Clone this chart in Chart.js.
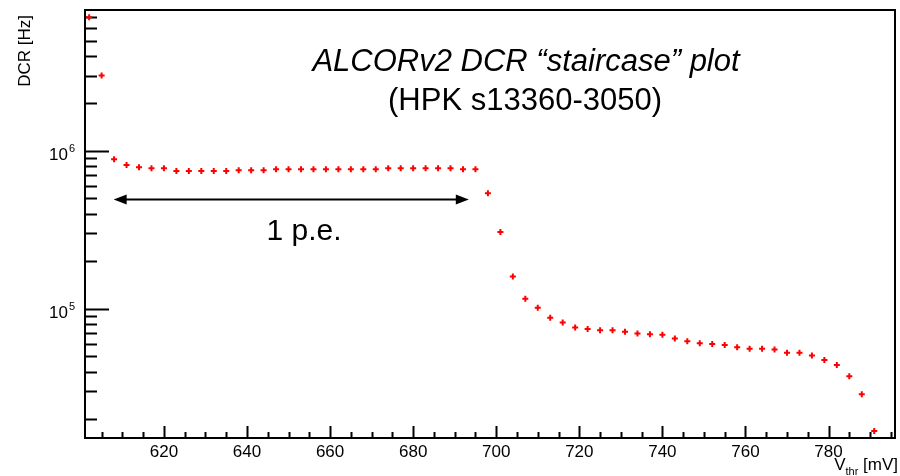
<!DOCTYPE html>
<html lang="en">
<head>
  <meta charset="UTF-8">
  <title>ALCORv2 DCR staircase</title>
  <script src="https://cdn.jsdelivr.net/npm/chart.js"></script>
  <style>
    html, body { margin: 0; padding: 0; background: #fff; }
    canvas { display: block; }
  </style>
</head>
<body>
  <canvas id="dcrChart" width="900" height="476"></canvas>

  <script>
    // threshold voltage [mV] and measured dark count rate [Hz]
    const vthr = [
      602, 605, 608, 611, 614, 617, 620, 623, 626, 629, 632, 635, 638, 641, 644, 647,
      650, 653, 656, 659, 662, 665, 668, 671, 674, 677, 680, 683, 686, 689, 692, 695,
      698, 701, 704, 707, 710, 713, 716, 719, 722, 725, 728, 731, 734, 737, 740, 743,
      746, 749, 752, 755, 758, 761, 764, 767, 770, 773, 776, 779, 782, 785, 788, 791
    ];
    const dcr = [
      7.02e6, 3.0e6, 8.86e5, 8.15e5, 7.89e5, 7.77e5, 7.77e5, 7.47e5, 7.47e5, 7.47e5, 7.47e5, 7.47e5, 7.55e5, 7.55e5, 7.55e5, 7.66e5,
      7.66e5, 7.66e5, 7.66e5, 7.66e5, 7.66e5, 7.66e5, 7.66e5, 7.66e5, 7.77e5, 7.77e5, 7.77e5, 7.77e5, 7.77e5, 7.77e5, 7.66e5, 7.66e5,
      5.40e5, 3.06e5, 1.60e5, 1.157e5, 1.014e5, 8.77e4, 8.19e4, 7.62e4, 7.44e4, 7.32e4, 7.32e4, 7.15e4, 6.98e4, 6.91e4, 6.85e4, 6.49e4,
      6.22e4, 6.04e4, 5.98e4, 5.89e4, 5.70e4, 5.59e4, 5.59e4, 5.53e4, 5.27e4, 5.27e4, 5.06e4, 4.74e4, 4.41e4, 3.74e4, 2.88e4, 1.68e4
    ];

    const xTickLabels = [620, 640, 660, 680, 700, 720, 740, 760, 780];
    const yTickExponents = [5, 6];

    const titleLine1 = 'ALCORv2 DCR \u201Cstaircase\u201D plot';
    const titleLine2 = '(HPK s13360-3050)';
    const peLabel = '1 p.e.';

    const FONT = '"Liberation Sans", Arial, Helvetica, sans-serif';

    // ROOT-like frame, inward ticks, labels and the annotations
    const rootStyle = {
      id: 'rootStyle',
      beforeDatasetsDraw(chart) {
        const { ctx, chartArea: a, scales: { x, y } } = chart;
        ctx.save();
        ctx.strokeStyle = '#000';
        ctx.lineWidth = 2;
        ctx.strokeRect(a.left, a.top, a.right - a.left, a.bottom - a.top);

        ctx.beginPath();
        // x ticks: major every 20, minor every 5
        for (let v = Math.ceil(x.min / 5) * 5; v <= x.max; v += 5) {
          const px = Math.round(x.getPixelForValue(v)) + 0.5;
          const len = xTickLabels.includes(v) ? 12 : 6;
          ctx.moveTo(px, a.bottom);
          ctx.lineTo(px, a.bottom - len);
        }
        // y ticks: decades long, 2..9 short
        for (let e = 4; e <= 6; e++) {
          for (let m = 1; m <= 9; m++) {
            const v = m * Math.pow(10, e);
            if (v < y.min || v > y.max) continue;
            const py = Math.round(y.getPixelForValue(v)) + 0.5;
            const len = m === 1 ? 24 : 12;
            ctx.moveTo(a.left, py);
            ctx.lineTo(a.left + len, py);
          }
        }
        ctx.stroke();
        ctx.restore();
      },
      afterDraw(chart) {
        const { ctx, chartArea: a, scales: { x, y } } = chart;
        ctx.save();
        ctx.fillStyle = '#000';

        // x tick labels
        ctx.font = '17px ' + FONT;
        ctx.textAlign = 'center';
        ctx.textBaseline = 'alphabetic';
        xTickLabels.forEach(v => {
          ctx.fillText(String(v), x.getPixelForValue(v), 457);
        });

        // y tick labels 10^n
        yTickExponents.forEach(e => {
          const py = y.getPixelForValue(Math.pow(10, e));
          ctx.font = '17px ' + FONT;
          ctx.textAlign = 'right';
          ctx.fillText('10', 68, py + 9);
          ctx.font = '11px ' + FONT;
          ctx.textAlign = 'left';
          ctx.fillText(String(e), 69, py + 1);
        });

        // y axis title
        ctx.save();
        ctx.translate(25, 15);
        ctx.rotate(-Math.PI / 2);
        ctx.font = '17px ' + FONT;
        ctx.textAlign = 'right';
        ctx.textBaseline = 'middle';
        ctx.fillText('DCR [Hz]', 0, 0);
        ctx.restore();

        // x axis title: V_thr [mV], right aligned to the frame
        ctx.textAlign = 'left';
        ctx.font = '17px ' + FONT;
        const wV = ctx.measureText('V').width;
        const wUnit = ctx.measureText(' [mV]').width;
        ctx.font = '11px ' + FONT;
        const wSub = ctx.measureText('thr').width;
        let tx = 898 - (wV + wSub + wUnit);
        ctx.font = '17px ' + FONT;
        ctx.fillText('V', tx, 470);
        tx += wV;
        ctx.font = '11px ' + FONT;
        ctx.fillText('thr', tx, 475);
        tx += wSub;
        ctx.font = '17px ' + FONT;
        ctx.fillText(' [mV]', tx, 470);

        // title
        ctx.textAlign = 'center';
        ctx.font = 'italic 31px ' + FONT;
        ctx.fillText(titleLine1, 526, 71);
        ctx.font = '31px ' + FONT;
        ctx.fillText(titleLine2, 525, 110);

        // 1 p.e. double arrow
        const x1 = x.getPixelForValue(607.9);
        const x2 = x.getPixelForValue(693.4);
        const ay = Math.round(y.getPixelForValue(4.97e5)) + 0.5;
        ctx.strokeStyle = '#000';
        ctx.lineWidth = 2;
        ctx.beginPath();
        ctx.moveTo(x1 + 8, ay);
        ctx.lineTo(x2 - 8, ay);
        ctx.stroke();
        ctx.beginPath();
        ctx.moveTo(x1, ay);
        ctx.lineTo(x1 + 13, ay - 5);
        ctx.lineTo(x1 + 13, ay + 5);
        ctx.closePath();
        ctx.moveTo(x2, ay);
        ctx.lineTo(x2 - 13, ay - 5);
        ctx.lineTo(x2 - 13, ay + 5);
        ctx.closePath();
        ctx.fill();

        ctx.font = '30px ' + FONT;
        ctx.textAlign = 'center';
        ctx.fillText(peLabel, 304, 240);

        ctx.restore();
      }
    };

    const ctx = document.getElementById('dcrChart').getContext('2d');
    const dcrChart = new Chart(ctx, {
      type: 'scatter',
      data: {
        datasets: [{
          data: vthr.map((v, i) => ({ x: v, y: dcr[i] })),
          pointStyle: 'cross',
          pointRadius: 3,
          pointHoverRadius: 3,
          borderWidth: 2,
          borderColor: '#ff0000',
          backgroundColor: '#ff0000',
          clip: false
        }]
      },
      options: {
        responsive: false,
        animation: false,
        events: [],
        layout: { padding: { top: 10, right: 3, left: 0, bottom: 0 } },
        plugins: {
          legend: { display: false },
          tooltip: { enabled: false }
        },
        scales: {
          x: {
            type: 'linear',
            min: 601,
            max: 796,
            grid: { display: false, drawTicks: false },
            border: { display: false },
            ticks: { display: false },
            afterFit: s => { s.height = 38; }
          },
          y: {
            type: 'logarithmic',
            min: 1.519e4,
            max: 7.806e6,
            grid: { display: false, drawTicks: false },
            border: { display: false },
            ticks: { display: false },
            afterFit: s => { s.width = 85; }
          }
        }
      },
      plugins: [rootStyle]
    });
  </script>
</body>
</html>
